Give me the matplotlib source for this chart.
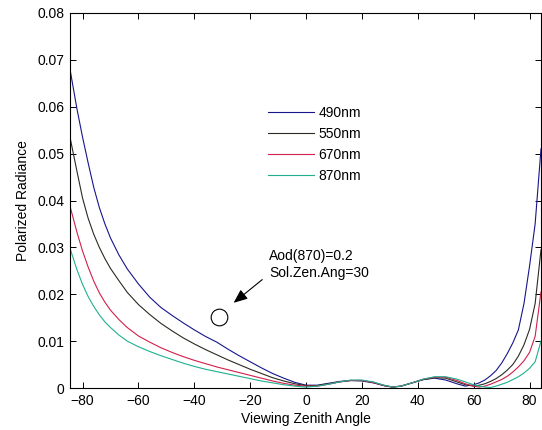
import numpy as np  # numerical arrays
import matplotlib
matplotlib.use("Agg")
import matplotlib.pyplot as plt  # plotting
from matplotlib.ticker import FuncFormatter

plt.rcParams['font.family'] = ['Liberation Sans', 'DejaVu Sans']

# viewing zenith angles (degrees) shared by all curves
angle = [-84.5, -82, -80, -78, -76, -74, -72, -70, -67, -64, -60, -56, -52, -48, -44, -40,
         -36, -32, -28, -24, -20, -16, -12, -8, -4, 0, 4, 8, 12, 16, 20, 24, 28, 31, 34, 38,
         42, 46, 50, 54, 57, 60, 62, 64, 66, 68, 70, 72, 74, 76, 78, 80, 82, 84.1]

# polarized radiance, one list per wavelength
pr_490 = [0.0680, 0.0595, 0.0535, 0.0480, 0.0428, 0.0385, 0.0350, 0.0320, 0.0284, 0.0254,
          0.0222, 0.0194, 0.0172, 0.0155, 0.0139, 0.0124, 0.0110, 0.0098, 0.0083, 0.0069,
          0.0056, 0.0043, 0.0031, 0.0021, 0.0012, 0.0006, 0.0006, 0.0010, 0.0014, 0.0016,
          0.0015, 0.0011, 0.0005, 0.0002, 0.0004, 0.0011, 0.0018, 0.0021, 0.0017, 0.0009,
          0.0004, 0.0007, 0.0011, 0.0017, 0.0026, 0.0037, 0.0053, 0.0073, 0.0096, 0.0124,
          0.0180, 0.0260, 0.0350, 0.0510]
pr_550 = [0.0535, 0.0462, 0.0405, 0.0362, 0.0328, 0.0300, 0.0276, 0.0255, 0.0229, 0.0204,
          0.0178, 0.0157, 0.0138, 0.0122, 0.0107, 0.0094, 0.0082, 0.0071, 0.0060, 0.0050,
          0.0040, 0.0031, 0.0022, 0.0015, 0.0009, 0.0005, 0.0005, 0.0009, 0.0013, 0.0016,
          0.0016, 0.0012, 0.0005, 0.0002, 0.0004, 0.0011, 0.0018, 0.0022, 0.0021, 0.0013,
          0.0007, 0.0004, 0.0006, 0.0009, 0.0014, 0.0020, 0.0028, 0.0038, 0.0050, 0.0068,
          0.0092, 0.0125, 0.0180, 0.0295]
pr_670 = [0.0388, 0.0332, 0.0292, 0.0258, 0.0228, 0.0203, 0.0183, 0.0166, 0.0146, 0.0129,
          0.0111, 0.0098, 0.0086, 0.0076, 0.0067, 0.0059, 0.0052, 0.0045, 0.0039, 0.0033,
          0.0027, 0.0021, 0.0015, 0.0010, 0.0006, 0.0004, 0.0004, 0.0008, 0.0013, 0.0016,
          0.0016, 0.0012, 0.0005, 0.0002, 0.0004, 0.0011, 0.0019, 0.0023, 0.0023, 0.0016,
          0.0009, 0.0004, 0.0002, 0.0004, 0.0008, 0.0013, 0.0018, 0.0025, 0.0034, 0.0045,
          0.0058, 0.0076, 0.0110, 0.0205]
pr_870 = [0.0298, 0.0252, 0.0221, 0.0195, 0.0174, 0.0156, 0.0141, 0.0129, 0.0113, 0.0100,
          0.0088, 0.0078, 0.0069, 0.0061, 0.0053, 0.0046, 0.0040, 0.0035, 0.0030, 0.0025,
          0.0020, 0.0015, 0.0011, 0.0007, 0.0004, 0.0002, 0.0004, 0.0008, 0.0013, 0.0017,
          0.0017, 0.0013, 0.0006, 0.0002, 0.0004, 0.0011, 0.0019, 0.0024, 0.0024, 0.0019,
          0.0013, 0.0007, 0.0004, 0.0002, 0.0001, 0.0004, 0.0008, 0.0012, 0.0018, 0.0024,
          0.0032, 0.0042, 0.0056, 0.0100]

labels = ["490nm", "550nm", "670nm", "870nm"]
colors = ["#16168c", "#2b2b22", "#d0204c", "#20b090"]
x_ticks = [-80, -60, -40, -20, 0, 20, 40, 60, 80]
y_ticks = [0, 0.01, 0.02, 0.03, 0.04, 0.05, 0.06, 0.07, 0.08]

fig = plt.figure(figsize=(5.42, 4.30), dpi=100)
ax = fig.add_axes([70 / 542, 1 - 388 / 430, 471 / 542, 375 / 430])

for y, lab, c in zip([pr_490, pr_550, pr_670, pr_870], labels, colors):
    ax.plot(angle, y, color=c, lw=0.8, label=lab)

# annotation: text, arrow and open marker
ax.text(-13.2, 0.0264, "Aod(870)=0.2\nSol.Zen.Ang=30", fontsize=10, ha="left", va="center",
        linespacing=1.3)
ax.annotate("", xy=(-26.7, 0.0178), xytext=(-14.9, 0.0235),
            arrowprops=dict(arrowstyle="-|>,head_length=0.6,head_width=0.25", color="k",
                            lw=0.8, mutation_scale=14))
ax.plot([-31], [0.0151], marker="o", ms=12, mfc="none", mec="k", mew=0.8)

ax.set_xlim(-84.5, 84.1)
ax.set_ylim(0, 0.08)
ax.set_xticks(x_ticks)
ax.set_yticks(y_ticks)
ax.yaxis.set_major_formatter(FuncFormatter(lambda v, p: "0" if v == 0 else "%.2f" % v))
ax.tick_params(direction="in", top=True, right=True, length=4, width=0.7, labelsize=10, pad=4)
for s in ax.spines.values():
    s.set_linewidth(0.8)

ax.set_xlabel("Viewing Zenith Angle", fontsize=10, labelpad=3)
ax.set_ylabel("Polarized Radiance", fontsize=10, labelpad=5)

ax.legend(loc="upper left", bbox_to_anchor=(268 / 542, 1 - 106 / 430),
          bbox_transform=fig.transFigure, frameon=False, fontsize=10, handlelength=3.3,
          handletextpad=0.35, labelspacing=0.5, borderpad=0, borderaxespad=0)

plt.savefig("out.png", dpi=100)
